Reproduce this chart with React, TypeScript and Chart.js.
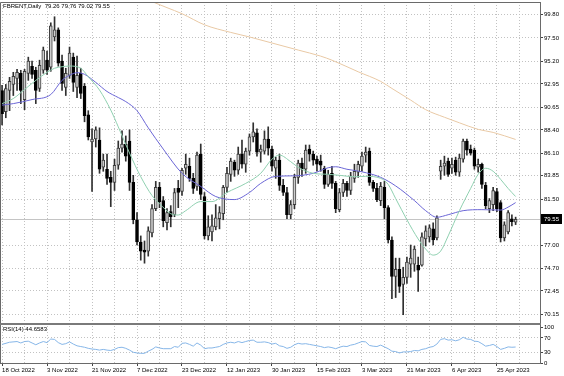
import React, { useEffect, useRef } from 'react';
import { Chart, registerables } from 'chart.js';

Chart.register(...registerables);

// ---- data (bar index 0 = 18 Oct 2022, daily bars) ----
const symbolName = 'FBRENT';
const periodName = 'Daily';

const opens = [
  92.3, 90.2, 92.3, 92.9, 93.5, 94.0, 91.4, 94.0, 94.7, 94.3,
  92.5, 94.3, 95.3, 94.6, 97.6, 98.3, 95.2, 92.6, 93.8, 95.6,
  92.6, 94.0, 92.7, 89.9, 87.2, 87.5, 87.4, 84.7, 84.5, 83.7,
  83.2, 84.9, 86.6, 87.0, 87.3, 83.2, 79.5, 77.3, 76.5, 76.4,
  78.2, 80.6, 82.7, 81.4, 79.2, 80.3, 80.0, 82.6, 82.3, 84.6,
  84.8, 83.6, 82.8, 86.0, 81.8, 77.9, 78.3, 78.8, 79.6, 80.1,
  82.7, 84.0, 85.2, 84.4, 86.0, 85.0, 86.3, 87.7, 88.1, 86.2,
  86.3, 87.5, 86.5, 84.6, 85.4, 82.9, 82.2, 80.0, 81.0, 83.7,
  85.1, 84.5, 86.5, 86.0, 85.5, 85.3, 84.6, 83.0, 84.1, 83.1,
  80.5, 82.2, 83.1, 82.4, 83.6, 84.2, 84.8, 85.9, 86.3, 83.2,
  82.6, 81.4, 82.7, 80.7, 77.5, 73.9, 74.6, 73.1, 73.8, 75.1,
  75.1, 75.0, 75.0, 77.6, 77.8, 78.6, 77.7, 84.3, 84.8, 85.3,
  84.6, 85.4, 84.2, 85.5, 87.3, 86.5, 86.4, 84.7, 85.0, 82.9,
  80.6, 81.0, 82.3, 81.2, 77.7, 78.3, 79.6, 79.26,
];
const highs = [
  92.8, 92.9, 93.6, 94.1, 94.4, 94.3, 94.4, 95.6, 95.2, 94.6,
  95.3, 96.6, 96.2, 99.0, 99.6, 98.5, 95.8, 94.5, 96.6, 96.0,
  95.7, 94.5, 93.0, 90.3, 88.5, 88.7, 88.6, 86.0, 86.0, 84.3,
  85.5, 87.3, 88.3, 87.8, 88.4, 83.9, 80.2, 77.9, 77.4, 78.8,
  81.0, 83.3, 83.2, 81.8, 80.6, 80.9, 82.6, 83.4, 84.6, 86.0,
  85.6, 84.1, 86.2, 87.0, 82.2, 79.9, 80.0, 81.0, 80.8, 82.9,
  84.7, 85.6, 85.4, 86.7, 87.4, 86.6, 88.0, 89.1, 88.5, 86.9,
  88.3, 88.7, 86.8, 85.7, 86.0, 83.5, 82.7, 81.4, 84.0, 85.4,
  85.6, 86.9, 86.9, 86.3, 85.8, 85.9, 84.8, 84.4, 84.8, 83.3,
  82.6, 83.5, 83.3, 84.2, 85.0, 85.3, 86.2, 86.7, 86.6, 83.4,
  83.1, 83.2, 83.3, 80.9, 77.8, 75.7, 75.7, 74.8, 75.8, 77.0,
  76.9, 75.8, 78.2, 78.9, 79.0, 79.2, 79.9, 85.4, 85.8, 85.6,
  85.6, 85.7, 86.0, 87.5, 87.5, 86.9, 86.6, 85.5, 85.1, 83.2,
  81.6, 82.7, 82.6, 81.4, 79.3, 80.4, 80.0, 79.76,
];
const lows = [
  88.9, 89.6, 90.3, 91.8, 92.3, 91.0, 90.4, 93.3, 93.5, 91.0,
  92.2, 94.0, 93.9, 94.2, 97.2, 94.7, 92.3, 91.8, 93.5, 92.2,
  91.6, 91.5, 89.2, 87.4, 82.3, 86.7, 84.1, 84.3, 83.0, 80.8,
  82.4, 84.5, 86.2, 85.3, 82.4, 79.1, 77.0, 75.5, 75.2, 75.9,
  77.8, 80.4, 80.7, 78.8, 78.5, 78.8, 79.8, 80.7, 81.9, 84.0,
  83.3, 82.1, 82.4, 81.5, 77.6, 77.5, 77.4, 78.5, 78.6, 79.5,
  82.2, 83.3, 83.8, 84.0, 84.6, 84.2, 85.9, 87.2, 85.8, 85.2,
  86.0, 85.9, 84.3, 83.6, 82.4, 81.9, 79.6, 79.6, 80.6, 83.1,
  83.8, 84.1, 85.3, 84.9, 84.3, 84.3, 82.6, 82.8, 82.6, 80.2,
  80.3, 81.8, 81.8, 82.0, 83.2, 83.7, 84.3, 85.2, 82.9, 82.3,
  81.3, 80.9, 79.6, 77.2, 71.7, 71.8, 72.3, 70.1, 73.2, 73.8,
  74.4, 72.4, 74.9, 76.9, 77.3, 77.0, 77.5, 83.5, 83.9, 83.8,
  84.1, 83.9, 83.8, 85.2, 85.9, 85.9, 84.5, 84.2, 82.6, 80.6,
  80.2, 80.4, 80.3, 77.3, 77.4, 78.1, 78.9, 79.02,
];
const closes = [
  90.0, 92.5, 93.2, 93.7, 94.1, 92.3, 94.2, 95.2, 93.9, 92.3,
  94.8, 96.3, 94.3, 98.7, 98.3, 95.0, 93.0, 94.0, 96.0, 93.1,
  93.8, 92.0, 89.8, 87.7, 87.5, 88.4, 84.5, 85.4, 83.6, 83.2,
  84.9, 86.6, 87.0, 85.8, 83.2, 79.5, 77.3, 76.4, 76.3, 78.4,
  80.6, 82.7, 81.3, 79.4, 80.2, 79.8, 82.2, 82.2, 84.4, 85.0,
  83.6, 82.6, 85.9, 82.0, 77.9, 78.8, 78.9, 79.7, 80.2, 82.7,
  84.1, 85.3, 84.4, 86.0, 85.0, 86.3, 87.7, 88.2, 86.2, 86.5,
  87.5, 86.6, 84.8, 85.4, 82.9, 82.2, 80.0, 81.0, 83.7, 85.1,
  84.5, 86.4, 86.0, 85.4, 85.0, 84.9, 83.0, 84.0, 83.1, 80.6,
  82.2, 83.1, 82.4, 83.8, 84.3, 85.0, 85.8, 86.2, 83.2, 82.6,
  81.5, 82.8, 80.7, 77.5, 73.9, 74.6, 72.9, 73.8, 75.3, 75.7,
  76.6, 74.5, 77.8, 78.4, 78.7, 77.5, 79.7, 84.8, 85.1, 84.0,
  85.0, 84.2, 85.6, 87.3, 86.4, 86.1, 84.8, 85.0, 83.0, 80.9,
  81.4, 82.4, 80.6, 77.7, 79.0, 80.2, 79.3, 79.55,
];

// moving averages (bar index, price)
const greenMaIdx = [0, 3, 6, 9, 12, 14, 16, 18, 21, 23, 26, 29, 31, 34, 37, 40, 42, 45, 47, 49, 53, 56, 60, 65, 69, 72, 74, 77, 79, 83, 87, 90, 94, 97, 101, 103, 105, 108, 111, 113, 115, 117, 119, 122, 125, 127, 129, 131, 133, 135, 137];
const greenMaVal = [91.0, 91.5, 92.4, 93.3, 94.1, 94.5, 94.65, 94.72, 94.5, 93.66, 92.34, 90.36, 88.7, 86.1, 83.76, 81.9, 81.1, 80.1, 79.97, 80.4, 81.3, 81.3, 82.2, 83.1, 84.1, 85.5, 85.9, 85.25, 84.7, 84.1, 84.0, 83.9, 83.76, 83.8, 83.6, 83.0, 81.6, 79.5, 77.6, 76.6, 76.0, 76.4, 77.9, 80.4, 82.6, 84.0, 84.6, 84.3, 83.5, 82.6, 81.8];

const blueMaIdx = [0, 3, 8, 13, 16, 18, 20, 22, 25, 28, 31, 33, 36, 39, 43, 48, 53, 57, 62, 66, 69, 73, 78, 83, 87, 89, 92, 96, 101, 105, 110, 113, 116, 119, 123, 128, 133, 135, 137];
const blueMaVal = [90.85, 91.0, 91.4, 91.9, 93.3, 93.8, 94.06, 93.9, 93.1, 92.2, 91.6, 91.2, 90.3, 88.6, 86.5, 84.1, 82.8, 81.8, 81.5, 82.2, 83.1, 83.8, 83.85, 84.1, 84.65, 84.75, 84.5, 84.25, 83.7, 82.85, 81.4, 80.4, 79.75, 80.0, 80.4, 80.5, 80.46, 80.75, 81.2];

const tanMaIdx = [37, 40, 44, 48, 54, 61, 66, 72, 79, 85, 88, 95, 101, 104, 109, 113, 118, 122, 127, 131, 137];
const tanMaVal = [101.6, 101.1, 100.5, 99.9, 98.8, 98.05, 97.6, 97.0, 96.3, 95.7, 95.3, 94.15, 93.2, 92.5, 91.35, 90.4, 89.65, 89.1, 88.45, 88.15, 87.45];

const rsiIdx = [
  0, 2, 4, 5, 6, 7, 8, 9, 10, 11, 12, 13, 14, 15, 16, 17, 18, 19, 20, 21,
  22, 23, 24, 25, 26, 27, 28, 29, 30, 31, 32, 33, 34, 35, 36, 37, 38, 39, 40, 41,
  42, 43, 44, 45, 46, 47, 48, 49, 50, 51, 52, 53, 54, 55, 56, 57, 58, 59, 60, 61,
  62, 63, 64, 65, 66, 67, 68, 69, 70, 71, 72, 73, 74, 75, 76, 77, 78, 79, 80, 81,
  82, 83, 84, 85, 86, 87, 88, 89, 90, 91, 92, 93, 94, 95, 96, 97, 98, 99, 100, 101,
  102, 103, 104, 105, 106, 107, 108, 109, 110, 111, 112, 113, 114, 115, 116, 117, 118, 119, 120, 121,
  122, 123, 124, 125, 126, 127, 128, 129, 130, 131, 132, 133, 134, 135, 136, 137,
];
const rsiVal = [
  52, 58, 60, 56, 60, 61, 56, 51, 56, 60, 57, 67, 66, 57, 52, 54, 59, 53, 48, 46,
  44, 41, 39, 38, 36, 38, 36, 35, 38, 43, 44, 41, 36, 30, 28, 27, 27, 33, 38, 45,
  42, 40, 40, 40, 46, 44, 55, 56, 52, 47, 56, 50, 40, 42, 42, 44, 46, 52, 56, 58,
  56, 60, 57, 60, 63, 64, 58, 58, 59, 57, 53, 55, 48, 46, 41, 44, 51, 55, 53, 54,
  52, 50, 48, 46, 43, 45, 43, 40, 44, 47, 46, 50, 52, 56, 60, 59, 49, 47, 46, 50,
  45, 40, 33, 32, 28, 31, 31, 32, 35, 34, 38, 40, 44, 46, 53, 66, 68, 64, 65, 62,
  65, 72, 67, 66, 61, 60, 54, 47, 49, 52, 46, 38, 41, 45, 44, 44.6583,
];

const xTickLabels = ['18 Oct 2022', '3 Nov 2022', '21 Nov 2022', '7 Dec 2022', '23 Dec 2022', '12 Jan 2023', '30 Jan 2023', '15 Feb 2023', '3 Mar 2023', '21 Mar 2023', '6 Apr 2023', '25 Apr 2023'];
const priceTicks = [99.8, 97.5, 95.2, 92.95, 90.65, 88.4, 86.1, 83.85, 81.5, 77.0, 74.7, 72.45, 70.15];
const rsiTicks = [100, 70, 30, 0];
const rsiLevels = [70, 30];

// ---- layout / style ----
const FONT = '"Liberation Sans", Arial, sans-serif';
const gridIdx: number[] = [];
for (let k = 0; k <= 138; k += 6) gridIdx.push(k);

const pts = (xs: number[], ys: number[]) => xs.map((x, i) => ({ x, y: ys[i] }));

const overlayPlugin = {
  id: 'overlay',
  beforeDatasetsDraw(chart: any) {
    const { ctx, chartArea, scales } = chart;
    const last = closes[closes.length - 1];
    const y = Math.round(scales.y.getPixelForValue(last)) + 0.5;
    ctx.save();
    ctx.strokeStyle = '#c4c4c4';
    ctx.lineWidth = 1;
    ctx.beginPath();
    ctx.moveTo(chartArea.left, y);
    ctx.lineTo(chartArea.right, y);
    ctx.stroke();
    ctx.restore();
  },
  afterDraw(chart: any) {
    const { ctx, chartArea, scales } = chart;
    const n = closes.length - 1;
    ctx.save();
    ctx.strokeStyle = '#6a6a6a';
    ctx.lineWidth = 1;
    ctx.beginPath();
    ctx.moveTo(chartArea.left + 0.5, chartArea.bottom);
    ctx.lineTo(chartArea.left + 0.5, chartArea.top + 0.5);
    ctx.lineTo(chartArea.right, chartArea.top + 0.5);
    ctx.stroke();
    const sy = scales.rsi.top;
    ctx.lineWidth = 2;
    ctx.strokeStyle = '#7a7a7a';
    ctx.beginPath();
    ctx.moveTo(chartArea.left, sy);
    ctx.lineTo(chartArea.right + 1, sy);
    ctx.stroke();

    ctx.font = '6px ' + FONT;
    ctx.fillStyle = '#000';
    ctx.textBaseline = 'middle';
    ctx.textAlign = 'left';
    const title = `${symbolName},${periodName}  ${opens[n].toFixed(2)} ${highs[n].toFixed(2)} ${lows[n].toFixed(2)} ${closes[n].toFixed(2)}`;
    ctx.fillText(title, chartArea.left + 3, chartArea.top + 4.5);
    ctx.fillText(`RSI(14) ${rsiVal[rsiVal.length - 1].toFixed(4)}`, chartArea.left + 3, sy + 5);

    const py = scales.y.getPixelForValue(closes[n]);
    ctx.fillStyle = '#000';
    ctx.fillRect(chartArea.right + 1, Math.round(py) - 5, 21, 10);
    ctx.fillStyle = '#fff';
    ctx.fillText(closes[n].toFixed(2), chartArea.right + 4, Math.round(py) + 0.5);
    ctx.restore();
  },
};

export default function App() {
  const ref = useRef<HTMLCanvasElement>(null);

  useEffect(() => {
    const canvas = ref.current as HTMLCanvasElement;
    const bull = closes.map((c, i) => c >= opens[i]);
    const chart = new Chart(canvas, {
      type: 'bar',
      data: {
        datasets: [
          {
            type: 'line',
            data: pts(greenMaIdx, greenMaVal),
            borderColor: '#8fd0b0',
            borderWidth: 1,
            pointRadius: 0,
            cubicInterpolationMode: 'monotone',
            yAxisID: 'y',
            order: 0,
          },
          {
            type: 'line',
            data: pts(blueMaIdx, blueMaVal),
            borderColor: '#6b66d6',
            borderWidth: 1,
            pointRadius: 0,
            cubicInterpolationMode: 'monotone',
            yAxisID: 'y',
            order: 0,
          },
          {
            type: 'line',
            data: pts(tanMaIdx, tanMaVal),
            borderColor: '#e9c9a5',
            borderWidth: 1,
            pointRadius: 0,
            cubicInterpolationMode: 'monotone',
            yAxisID: 'y',
            order: 0,
          },
          {
            type: 'line',
            data: pts(rsiIdx, rsiVal),
            borderColor: '#86b6e8',
            borderWidth: 1,
            pointRadius: 0,
            tension: 0,
            yAxisID: 'rsi',
            order: 0,
          },
          {
            type: 'bar',
            data: opens.map((o, i) => ({ x: i, y: [o, closes[i]] })),
            backgroundColor: bull.map((b) => (b ? '#cdcdcd' : '#000000')),
            borderColor: bull.map((b) => (b ? '#3c3c3c' : '#000000')),
            borderWidth: 1,
            borderSkipped: false,
            barThickness: 3,
            minBarLength: 1,
            grouped: false,
            yAxisID: 'y',
            order: 1,
          },
          {
            type: 'bar',
            data: lows.map((l, i) => ({ x: i, y: [l, highs[i]] })),
            backgroundColor: '#303030',
            borderWidth: 0,
            barThickness: 1,
            grouped: false,
            yAxisID: 'y',
            order: 2,
          },
        ],
      },
      options: {
        animation: false,
        responsive: false,
        devicePixelRatio: 1,
        layout: { padding: { top: 2, left: 0, right: 0, bottom: 0 } },
        plugins: { legend: { display: false }, tooltip: { enabled: false } },
        scales: {
          x: {
            type: 'linear',
            min: -0.55,
            max: 143.5,
            offset: false,
            position: 'bottom',
            afterBuildTicks: (s: any) => {
              s.ticks = gridIdx.map((v) => ({ value: v }));
            },
            afterFit: (s: any) => {
              s.height = 13;
              s.paddingLeft = 0;
              s.paddingRight = 0;
            },
            ticks: {
              autoSkip: false,
              maxRotation: 0,
              minRotation: 0,
              align: 'start',
              padding: 1,
              color: '#000',
              font: { family: FONT, size: 6 },
              callback: (v: any) => (v % 12 === 0 ? xTickLabels[v / 12] ?? '' : ''),
            },
            grid: {
              offset: false,
              color: '#c2c2c2',
              lineWidth: 1,
              tickLength: 3,
              tickBorderDash: [],
              tickColor: (c: any) => (c.tick && c.tick.value % 12 === 0 ? '#444' : 'rgba(0,0,0,0)'),
            },
            border: { display: true, color: '#6a6a6a', width: 1, dash: [1, 2] },
          },
          y: {
            type: 'linear',
            position: 'right',
            stack: 'panes',
            stackWeight: 322,
            min: 69.18,
            max: 101.06,
            afterBuildTicks: (s: any) => {
              s.ticks = priceTicks.map((v) => ({ value: v }));
            },
            afterFit: (s: any) => {
              s.width = 24;
              s.paddingTop = 0;
              s.paddingBottom = 0;
            },
            ticks: {
              autoSkip: false,
              padding: 1,
              color: '#000',
              font: { family: FONT, size: 6 },
              callback: (v: any) => Number(v).toFixed(2),
            },
            grid: { color: '#c2c2c2', lineWidth: 1, tickLength: 3, tickBorderDash: [], tickColor: '#444' },
            border: { display: true, color: '#6a6a6a', width: 1, dash: [1, 2] },
          },
          rsi: {
            type: 'linear',
            position: 'right',
            stack: 'panes',
            stackWeight: 39,
            min: 0,
            max: 109,
            afterBuildTicks: (s: any) => {
              s.ticks = rsiTicks.map((v) => ({ value: v }));
            },
            afterFit: (s: any) => {
              s.width = 24;
              s.paddingTop = 0;
              s.paddingBottom = 0;
            },
            ticks: {
              autoSkip: false,
              padding: 1,
              color: '#000',
              font: { family: FONT, size: 6 },
              callback: (v: any) => String(v),
            },
            grid: {
              color: (c: any) => (c.tick && rsiLevels.includes(c.tick.value) ? '#c2c2c2' : 'rgba(0,0,0,0)'),
              lineWidth: 1,
              tickLength: 3,
              tickBorderDash: [],
              tickColor: '#444',
            },
            border: { display: true, color: '#6a6a6a', width: 1, dash: [1, 2] },
          },
        },
      },
      plugins: [overlayPlugin],
    } as any);
    return () => chart.destroy();
  }, []);

  return (
    <div style={{ position: 'fixed', left: 0, top: 0, width: 564, height: 376, background: '#fff' }}>
      <canvas ref={ref} width={564} height={376} style={{ display: 'block', width: 564, height: 376 }} />
    </div>
  );
}
